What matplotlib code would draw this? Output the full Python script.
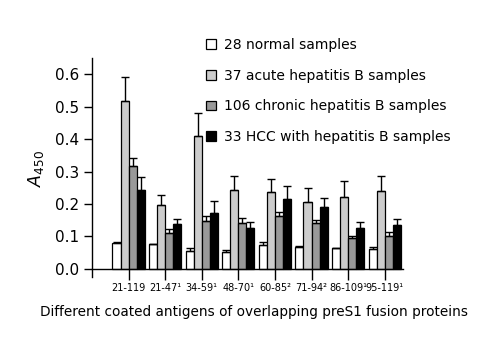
import matplotlib
matplotlib.use("Agg")
import matplotlib.pyplot as plt
import numpy as np

categories = ["21-119", "21-47\u00b9", "34-59\u00b9", "48-70\u00b9", "60-85\u00b2", "71-94\u00b2", "86-109\u00b9", "95-119\u00b9"]
series_names = ["28 normal samples", "37 acute hepatitis B samples",
                "106 chronic hepatitis B samples", "33 HCC with hepatitis B samples"]
normal = [0.081, 0.076, 0.055, 0.052, 0.074, 0.069, 0.063, 0.062]
normal_err = [0.003, 0.002, 0.008, 0.005, 0.008, 0.002, 0.002, 0.006]
acute = [0.516, 0.196, 0.411, 0.243, 0.237, 0.206, 0.222, 0.240]
acute_err = [0.074, 0.031, 0.071, 0.042, 0.040, 0.042, 0.048, 0.045]
chronic = [0.316, 0.111, 0.147, 0.141, 0.163, 0.140, 0.095, 0.101]
chronic_err = [0.025, 0.012, 0.016, 0.017, 0.013, 0.011, 0.006, 0.012]
hcc = [0.243, 0.138, 0.172, 0.126, 0.215, 0.191, 0.126, 0.135]
hcc_err = [0.039, 0.015, 0.036, 0.018, 0.039, 0.029, 0.019, 0.019]

colors = ["#ffffff", "#cccccc", "#999999", "#000000"]

fig = plt.figure(figsize=(4.99, 3.40), dpi=100)
ax = fig.add_axes([92/499, 1-277/340, (403-92)/499, (277-58)/340])

x = np.arange(len(categories))
w = 0.22
data = [normal, acute, chronic, hcc]
errs = [normal_err, acute_err, chronic_err, hcc_err]
handles = []
for i, (vals, err, c, name) in enumerate(zip(data, errs, colors, series_names)):
    pos = x + (i - 1.5) * w
    b = ax.bar(pos, vals, width=w, color=c, edgecolor="black", linewidth=0.9, label=name, zorder=2)
    ax.errorbar(pos, vals, yerr=[np.zeros(len(vals)), err], fmt="none", ecolor="black",
                elinewidth=1.0, capsize=3.2, capthick=1.0, zorder=3)
    handles.append(b)

ax.set_xlim(-1.0, 7.5)
ax.set_ylim(-0.025, 0.65)
ax.spines["top"].set_visible(False)
ax.spines["right"].set_visible(False)
ax.spines["bottom"].set_position(("data", 0))
ax.spines["left"].set_linewidth(1.0)
ax.spines["bottom"].set_linewidth(1.0)
ax.set_yticks([0.0, 0.1, 0.2, 0.3, 0.4, 0.5, 0.6])
ax.set_yticklabels(["0.0", "0.1", "0.2", "0.3", "0.4", "0.5", "0.6"], fontsize=11)
ax.set_xticks(x)
ax.set_xticklabels(categories, fontsize=7)
ax.tick_params(axis="y", direction="out", length=6, width=1, pad=3)
ax.tick_params(axis="x", direction="out", length=8, width=1, pad=2)

fig.text(36/499, 1-168/340, r"$A_{450}$", rotation=90, fontsize=12.5, ha="center", va="center")
fig.text(254/499, 1-312/340, "Different coated antigens of overlapping preS1 fusion proteins",
         fontsize=9.8, ha="center", va="center")

fig.legend(handles=handles, labels=series_names, loc="upper left",
           bbox_to_anchor=(206/499, 1-38/340), frameon=False, fontsize=10,
           handlelength=0.7, handleheight=0.7, handletextpad=0.6, labelspacing=1.2,
           borderpad=0, borderaxespad=0)

fig.savefig("out.png", dpi=100)
